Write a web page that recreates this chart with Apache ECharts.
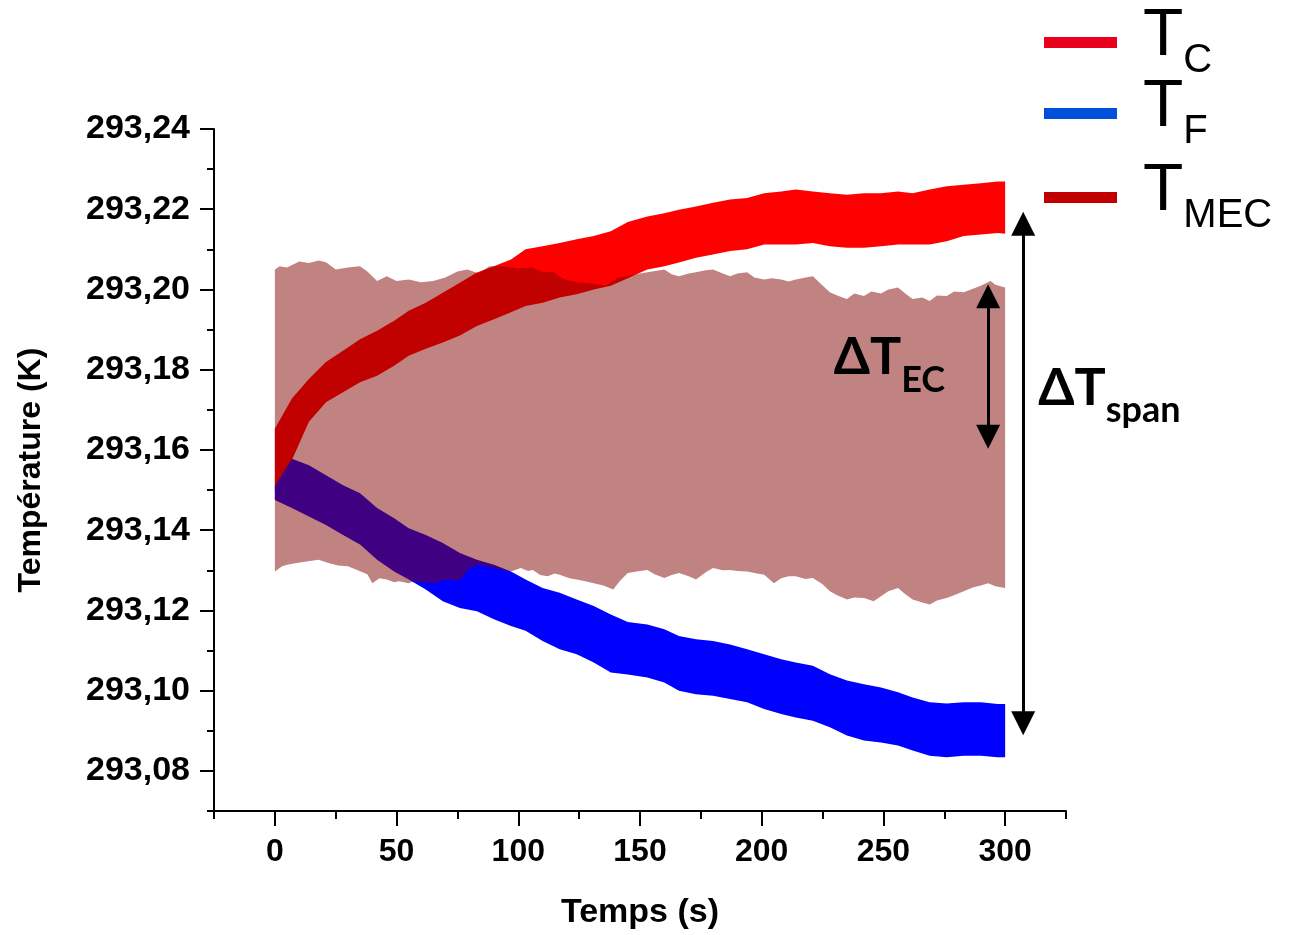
<!DOCTYPE html>
<html><head><meta charset="utf-8">
<script src="https://cdn.jsdelivr.net/npm/echarts@6/dist/echarts.min.js"></script>
<style>html,body{margin:0;padding:0;background:#fff}#c{width:1292px;height:935px}</style>
</head><body><div id="c"></div><script>
// ---- data (time in s, temperatures in K) ----
const time = [0,7,14,21,28,35,42,49,55,62,69,76,83,90,97,103,110,117,124,131,138,145,153,160,166,173,180,187,194,201,208,214,221,228,235,242,249,256,262,269,276,283,290,297,300];
const tcUpper = [293.1653,293.1728,293.1777,293.1819,293.1847,293.1876,293.1897,293.1922,293.1947,293.1967,
 293.1992,293.2017,293.2042,293.2058,293.2075,293.2100,293.2108,293.2116,293.2125,293.2133,
 293.2145,293.2168,293.2182,293.2190,293.2199,293.2207,293.2216,293.2224,293.2228,293.2240,
 293.2244,293.2249,293.2244,293.2240,293.2236,293.2240,293.2240,293.2244,293.2240,293.2249,
 293.2257,293.2261,293.2265,293.2269,293.2269];
const tcLower = [293.1500,293.1575,293.1670,293.1719,293.1744,293.1769,293.1785,293.1810,293.1835,293.1852,
 293.1868,293.1885,293.1909,293.1926,293.1943,293.1959,293.1967,293.1980,293.1988,293.2000,
 293.2009,293.2028,293.2050,293.2058,293.2067,293.2079,293.2087,293.2096,293.2100,293.2112,
 293.2112,293.2112,293.2116,293.2108,293.2104,293.2104,293.2108,293.2112,293.2112,293.2112,
 293.2120,293.2133,293.2137,293.2141,293.2139];
const tfUpper = [293.1510,293.1578,293.1562,293.1537,293.1512,293.1492,293.1455,293.1430,293.1405,293.1388,
 293.1368,293.1343,293.1326,293.1314,293.1297,293.1277,293.1256,293.1244,293.1227,293.1211,
 293.1190,293.1171,293.1165,293.1153,293.1136,293.1128,293.1124,293.1115,293.1103,293.1091,
 293.1078,293.1070,293.1062,293.1041,293.1025,293.1016,293.1008,293.0996,293.0983,293.0971,
 293.0968,293.0971,293.0971,293.0967,293.0967];
const tfLower = [293.1475,293.1455,293.1434,293.1413,293.1388,293.1364,293.1326,293.1297,293.1277,293.1252,
 293.1223,293.1206,293.1198,293.1178,293.1161,293.1149,293.1124,293.1103,293.1091,293.1070,
 293.1045,293.1040,293.1033,293.1020,293.1000,293.0991,293.0987,293.0979,293.0971,293.0954,
 293.0942,293.0933,293.0925,293.0909,293.0888,293.0876,293.0871,293.0863,293.0851,293.0838,
 293.0834,293.0838,293.0838,293.0834,293.0834];
const mecUpperTime = [0,2,5,10,14,18,21,25,30,35,38,42,46,50,55,60,65,70,75,79,84,88,93,100,106,110,114,119,124,130,136,141,145,150,155,160,163,166,170,173,177,180,184,187,190,194,197,201,204,208,211,214,218,221,225,228,231,235,238,242,245,249,252,256,259,262,266,269,272,276,279,283,286,290,294,296,300];
const mecUpper = [293.2050,293.2058,293.2055,293.2070,293.2066,293.2072,293.2068,293.2050,293.2055,293.2058,293.2045,293.2021,293.2033,293.2021,293.2025,293.2018,293.2021,293.2030,293.2045,293.2050,293.2040,293.2058,293.2058,293.2052,293.2055,293.2042,293.2045,293.2025,293.2018,293.2015,293.2009,293.2030,293.2033,293.2040,293.2045,293.2050,293.2038,293.2033,293.2040,293.2043,293.2048,293.2050,293.2040,293.2033,293.2040,293.2043,293.2030,293.2025,293.2028,293.2025,293.2020,293.2025,293.2030,293.2033,293.2010,293.1993,293.1985,293.1976,293.1990,293.1984,293.1995,293.1990,293.2000,293.2005,293.1990,293.1976,293.1980,293.1971,293.1985,293.1984,293.1995,293.1993,293.2000,293.2009,293.2021,293.2012,293.2005];
const mecLowerTime = [0,3,5,9,13,18,22,26,30,34,38,40,43,46,49,51,55,57,61,65,69,72,76,80,84,87,90,94,97,101,104,106,109,112,115,117,121,124,128,131,135,139,142,145,150,153,156,160,163,166,170,173,177,180,184,187,190,194,197,201,205,208,211,214,218,221,225,228,231,235,238,242,246,249,252,256,259,262,266,269,272,276,280,283,287,290,293,296,300];
const mecLower = [293.1297,293.1310,293.1314,293.1318,293.1322,293.1326,293.1318,293.1312,293.1310,293.1300,293.1290,293.1268,293.1280,293.1277,293.1270,293.1273,293.1268,293.1273,293.1270,293.1268,293.1275,293.1277,293.1275,293.1306,293.1314,293.1310,293.1306,293.1300,293.1297,293.1306,293.1298,293.1301,293.1288,293.1285,293.1292,293.1289,293.1280,293.1277,293.1272,293.1268,293.1262,293.1252,293.1275,293.1293,293.1298,293.1301,293.1290,293.1281,293.1288,293.1293,293.1285,293.1277,293.1295,293.1306,293.1300,293.1301,293.1298,293.1297,293.1293,293.1289,293.1268,293.1280,293.1285,293.1285,293.1278,293.1281,293.1265,293.1248,293.1238,293.1227,293.1232,293.1231,293.1223,293.1235,293.1248,293.1256,293.1240,293.1227,293.1220,293.1215,293.1225,293.1231,293.1240,293.1248,293.1258,293.1262,293.1268,293.1260,293.1256];

// ticks
const xMajorTicks = [0,50,100,150,200,250,300];
const xMinorTicks = [-25,25,75,125,175,225,275,325];
const yMajorTicks = [293.08,293.10,293.12,293.14,293.16,293.18,293.20,293.22,293.24];
const yMinorTicks = [293.07,293.09,293.11,293.13,293.15,293.17,293.19,293.21,293.23];

// annotations: arrows [x, yStart, yEnd] and label anchors
const ecArrow = [293, 293.1983, 293.1633];
const spanArrow = [307.4, 293.2164, 293.0919];
const ecLabelAnchor = [293, 293.1813];
const spanLabelAnchor = [307.4, 293.1736];

const chart = echarts.init(document.getElementById('c'), null, {renderer:'canvas'});

function band(upT, up, loT, lo, color) {
  return function (params, api) {
    const pts = [];
    for (let i = 0; i < upT.length; i++) pts.push(api.coord([upT[i], up[i]]));
    for (let i = loT.length - 1; i >= 0; i--) pts.push(api.coord([loT[i], lo[i]]));
    return {type:'polygon', shape:{points:pts}, style:{fill:color}};
  };
}

const AX = 'Liberation Sans, Arial, sans-serif';
const legendRich = {
  t: {fontSize:66, fontFamily:AX, color:'#000', lineHeight:66, verticalAlign:'top', padding:[0,0,0,21]},
  s: {fontSize:40, fontFamily:AX, color:'#000', lineHeight:77, verticalAlign:'bottom'}
};
const legendColors = {TC:'#e8001c', TF:'#0050dc', TMEC:'#c00000'};
const legendSub = {TC:'C', TF:'F', TMEC:'MEC'};
function mkLegend(name, top) {
  return {
    left:1044, top:top, padding:0, orient:'vertical', selectedMode:false,
    itemWidth:73, itemHeight:11, icon:'rect',
    data:[{name:name, itemStyle:{color:legendColors[name]}}],
    formatter: n => '{t|T}{s|' + legendSub[n] + '}',
    textStyle:{rich:legendRich}
  };
}

const annRich = {
  d: {fontSize:52, fontWeight:'bold', fontFamily:'Lato, "Open Sans", sans-serif', color:'#000', lineHeight:56, verticalAlign:'top'},
  s: {fontSize:36, fontWeight:'bold', fontFamily:'Lato, "Open Sans", sans-serif', color:'#000', lineHeight:67, verticalAlign:'bottom'}
};

const fmt = v => Number(v).toFixed(2).replace('.', ',');

const option = {
  animation:false,
  backgroundColor:'#fff',
  grid:{left:214, right:226, top:129, bottom:122, containLabel:false},
  legend:[mkLegend('TC', 4), mkLegend('TF', 75), mkLegend('TMEC', 159)],
  xAxis:[{
    type:'value', min:-25, max:325, position:'bottom',
    name:'Temps (s)', nameLocation:'middle', nameGap:85,
    nameTextStyle:{fontSize:34, fontWeight:'bold', fontFamily:AX, color:'#000'},
    axisLine:{show:true, onZero:false, lineStyle:{color:'#000', width:2}},
    axisTick:{show:true, length:15, lineStyle:{color:'#000', width:2}, customValues:xMajorTicks},
    axisLabel:{show:true, margin:25, fontSize:32, fontWeight:'bold', fontFamily:AX, color:'#000', customValues:xMajorTicks},
    splitLine:{show:false}
  },{
    type:'value', min:-25, max:325, position:'bottom',
    axisLine:{show:false, onZero:false},
    axisTick:{show:true, length:8, lineStyle:{color:'#000', width:2}, customValues:xMinorTicks},
    axisLabel:{show:false}, splitLine:{show:false}
  }],
  yAxis:[{
    type:'value', min:293.07, max:293.24, position:'left',
    name:'Température (K)', nameLocation:'middle', nameGap:167,
    nameTextStyle:{fontSize:32, fontWeight:'bold', fontFamily:AX, color:'#000'},
    axisLine:{show:true, onZero:false, lineStyle:{color:'#000', width:2}},
    axisTick:{show:true, length:14, lineStyle:{color:'#000', width:2}, customValues:yMajorTicks},
    axisLabel:{show:true, margin:24, fontSize:34, fontWeight:'bold', fontFamily:AX, color:'#000', customValues:yMajorTicks, formatter:fmt},
    splitLine:{show:false}
  },{
    type:'value', min:293.07, max:293.24, position:'left',
    axisLine:{show:false, onZero:false},
    axisTick:{show:true, length:7, lineStyle:{color:'#000', width:2}, customValues:yMinorTicks},
    axisLabel:{show:false}, splitLine:{show:false}
  }],
  series:[
    {name:'TC', type:'custom', xAxisIndex:0, yAxisIndex:0, itemStyle:{color:'#ff0000'},
     data:[[time[0], tcUpper[0]]], renderItem: band(time, tcUpper, time, tcLower, '#ff0000')},
    {name:'TF', type:'custom', xAxisIndex:0, yAxisIndex:0, itemStyle:{color:'#0000ff'},
     data:[[time[0], tfUpper[0]]], renderItem: band(time, tfUpper, time, tfLower, '#0000ff')},
    {name:'TMEC', type:'custom', xAxisIndex:0, yAxisIndex:0, itemStyle:{color:'#c00000'},
     data:[[mecUpperTime[0], mecUpper[0]]], renderItem: band(mecUpperTime, mecUpper, mecLowerTime, mecLower, 'rgba(128,0,0,0.49)'),
     markLine:{
       silent:true, animation:false, symbol:['triangle','triangle'], symbolSize:24,
       lineStyle:{color:'#000', width:3, type:'solid'}, label:{show:false}, emphasis:{disabled:true},
       data:[
         [{coord:[ecArrow[0], ecArrow[1]]}, {coord:[ecArrow[0], ecArrow[2]]}],
         [{coord:[spanArrow[0], spanArrow[1]]}, {coord:[spanArrow[0], spanArrow[2]]}]
       ]
     },
     markPoint:{
       silent:true, animation:false, symbol:'circle', symbolSize:0,
       data:[
         {coord:ecLabelAnchor, label:{show:true, position:'left', distance:43, formatter:'{d|ΔT}{s|EC}', rich:annRich}},
         {coord:spanLabelAnchor, label:{show:true, position:'right', distance:15, formatter:'{d|ΔT}{s|span}', rich:annRich}}
       ]
     }
    }
  ]
};
chart.setOption(option);
</script></body></html>
